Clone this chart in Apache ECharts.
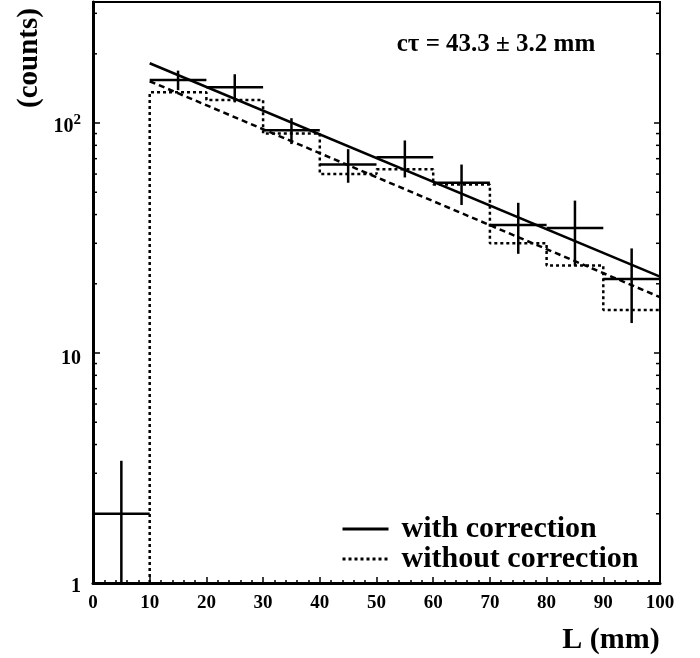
<!DOCTYPE html>
<html><head><meta charset="utf-8">
<script src="https://cdn.jsdelivr.net/npm/echarts@6/dist/echarts.min.js"></script>
<style>html,body{margin:0;padding:0;background:#fff}#c{width:700px;height:658px}</style>
</head><body><div id="c"></div>
<script>
// ---- data ----
var binLow  = [0, 10, 20, 30, 40, 50, 60, 70, 80, 90];
var binHigh = [10, 20, 30, 40, 50, 60, 70, 80, 90, 100];
var correctedCounts = [2, 154, 143, 93, 66, 71, 55, 36, 35, 21];
var correctedErr    = [1.4, 15, 20, 12, 11, 13, 11, 9, 11, 7.5];
var uncorrectedEdges  = [10, 10, 20, 30, 40, 50, 60, 70, 80, 90, 100];
var uncorrectedCounts = [1, 136, 126, 90, 60, 63, 54, 30, 24, 15.4, 15.4];
var fitCorrL = [10, 100], fitCorrN = [182, 21.5];
var fitUncL  = [10, 100], fitUncN  = [152, 17.5];
var xTicks = [0, 10, 20, 30, 40, 50, 60, 70, 80, 90, 100];
var yMinorTicks = [2,3,4,5,6,7,8,9,20,30,40,50,60,70,80,90,200,300];
var yMin = 1, yMax = 336;

var SERIF = '"Liberation Serif","DejaVu Serif",serif';
var chart = echarts.init(document.getElementById('c'), null, {renderer:'canvas'});

var crossData = binLow.map(function(lo, i){
  return [(lo + binHigh[i]) / 2, correctedCounts[i], correctedErr[i], lo, binHigh[i]];
});
var histData = uncorrectedEdges.map(function(e, i){ return [e, uncorrectedCounts[i]]; });

var option = {
  animation: false,
  backgroundColor: '#fff',
  grid: {left: 93, right: 40, top: 2, bottom: 75, show: true, borderColor: '#000', borderWidth: 2},
  legend: {
    orient: 'vertical', left: 336, top: 509, itemWidth: 46, itemHeight: 14, itemGap: 0,
    data: ['with correction', 'without correction'],
    itemStyle: {opacity: 0},
    lineStyle: {width: 3},
    textStyle: {fontFamily: SERIF, fontWeight: 'bold', fontSize: 30, lineHeight: 28, color: '#000', padding: [0,0,0,8]}
  },
  xAxis: {
    type: 'value', min: 0, max: 100, interval: 10,
    axisLine: {show: true, lineStyle: {color: '#000', width: 3}},
    axisTick: {show: true, inside: true, length: 6, lineStyle: {color: '#000', width: 1.5}},
    minorTick: {show: true, splitNumber: 5, length: 3, lineStyle: {color: '#000', width: 1.5}},
    splitLine: {show: false},
    axisLabel: {margin: 11, color: '#000', fontFamily: SERIF, fontWeight: 'bold', fontSize: 19,
      formatter: function(v){ return xTicks.indexOf(v) >= 0 ? String(v) : ''; }}
  },
  yAxis: [{
    type: 'log', logBase: 10, min: yMin, max: yMax, position: 'left',
    axisLine: {show: true, lineStyle: {color: '#000', width: 3}},
    axisTick: {show: true, inside: true, length: 7, lineStyle: {color: '#000', width: 1.5}},
    splitLine: {show: false},
    axisLabel: {margin: 12, color: '#000', fontFamily: SERIF, fontWeight: 'bold', fontSize: 20,
      formatter: function(v){
        var e = Math.round(Math.log10(v));
        if (Math.abs(Math.log10(v) - e) > 1e-6) return '';
        if (e >= 2) return '{a|10}{s|' + e + '}';
        if (e === 1) return '{b|' + v + '}';
        return '{a|' + v + '}';
      },
      rich: {
        a: {fontFamily: SERIF, fontWeight: 'bold', fontSize: 20, color: '#000', padding: [8,0,0,0]},
        b: {fontFamily: SERIF, fontWeight: 'bold', fontSize: 20, color: '#000', padding: [12,0,0,0]},
        s: {fontFamily: SERIF, fontWeight: 'bold', fontSize: 15, color: '#000', padding: [0,0,6,0]}
      }}
  }, {
    type: 'log', logBase: 10, min: yMin, max: yMax, position: 'right',
    axisLine: {show: true, lineStyle: {color: '#000', width: 2}},
    axisTick: {show: true, inside: true, length: 6, lineStyle: {color: '#000', width: 1.5}},
    axisLabel: {show: false}, splitLine: {show: false}
  }],
  series: [
    {
      name: 'minor', type: 'custom', silent: true, z: 1,
      data: yMinorTicks.map(function(v){ return [0, v]; }),
      renderItem: function(params, api){
        var v = api.value(1);
        var pl = api.coord([0, v]), pr = api.coord([100, v]);
        return {type: 'group', children: [
          {type: 'line', shape: {x1: pl[0], y1: pl[1], x2: pl[0] + 4, y2: pl[1]}, style: {stroke: '#000', lineWidth: 1.5}},
          {type: 'line', shape: {x1: pr[0], y1: pr[1], x2: pr[0] - 4, y2: pr[1]}, style: {stroke: '#000', lineWidth: 1.5}}
        ]};
      }
    },
    {
      name: 'without correction', type: 'line', step: 'end', symbol: 'none', legendIcon: 'none',
      data: histData,
      lineStyle: {color: '#000', width: 2.5, type: [3, 3]}, itemStyle: {color: '#000'}, z: 3
    },
    {
      name: 'fit uncorrected', type: 'line', symbol: 'none',
      data: fitUncL.map(function(l, i){ return [l, fitUncN[i]]; }),
      lineStyle: {color: '#000', width: 2.5, type: [6, 4]}, z: 3
    },
    {
      name: 'with correction', type: 'line', symbol: 'none', legendIcon: 'none',
      data: fitCorrL.map(function(l, i){ return [l, fitCorrN[i]]; }),
      lineStyle: {color: '#000', width: 2.5, type: 'solid'}, itemStyle: {color: '#000'}, z: 4
    },
    {
      name: 'data', type: 'custom', z: 5,
      data: crossData,
      encode: {x: 0, y: 1},
      renderItem: function(params, api){
        var xc = api.value(0), y = api.value(1), e = api.value(2), lo = api.value(3), hi = api.value(4);
        var pL = api.coord([lo, y]), pR = api.coord([hi, y]);
        var pT = api.coord([xc, y + e]), pB = api.coord([xc, Math.max(y - e, yMin)]);
        return {type: 'group', children: [
          {type: 'line', shape: {x1: pL[0], y1: pL[1], x2: pR[0], y2: pR[1]}, style: {stroke: '#000', lineWidth: 2.5}},
          {type: 'line', shape: {x1: pT[0], y1: pT[1], x2: pB[0], y2: pB[1]}, style: {stroke: '#000', lineWidth: 2.5}}
        ]};
      }
    }
  ],
  graphic: [
    {type: 'text', x: 30, y: 58, rotation: Math.PI / 2,
     style: {text: '(counts)', fontFamily: SERIF, fontWeight: 'bold', fontSize: 29, fill: '#000', align: 'center', verticalAlign: 'middle'}},
    {type: 'text', x: 611, y: 640,
     style: {text: 'L (mm)', fontFamily: SERIF, fontWeight: 'bold', fontSize: 30, fill: '#000', align: 'center', verticalAlign: 'middle'}},
    {type: 'text', x: 496, y: 45,
     style: {text: 'cτ = 43.3 ± 3.2 mm', fontFamily: SERIF, fontWeight: 'bold', fontSize: 25, fill: '#000', align: 'center', verticalAlign: 'middle'}}
  ]
};
chart.setOption(option);
</script>
</body></html>
